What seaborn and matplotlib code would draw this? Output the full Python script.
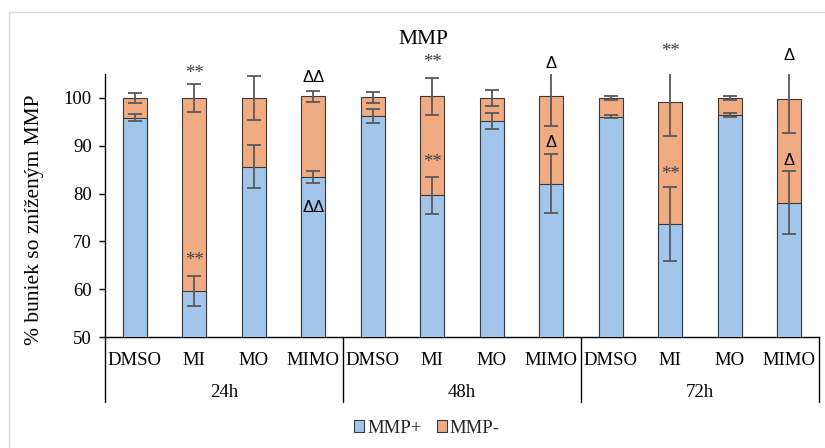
import matplotlib
matplotlib.use("Agg")
import matplotlib.pyplot as plt
import matplotlib.transforms as mtransforms
from matplotlib.patches import Patch, Rectangle
import numpy as np
import pandas as pd
import seaborn as sns

# ---- data -------------------------------------------------------------
groups = ["24h", "48h", "72h"]
treatments = ["DMSO", "MI", "MO", "MIMO"]

mmp_plus = [95.9, 59.6, 85.6, 83.5,
            96.2, 79.6, 95.2, 82.1,
            96.1, 73.6, 96.4, 78.1]
mmp_minus = [4.1, 40.4, 14.4, 16.8,
             3.9, 20.7, 4.8, 18.3,
             3.9, 25.6, 3.6, 21.6]
mmp_plus_err = [0.7, 3.1, 4.5, 1.2,
                1.4, 3.9, 1.6, 6.2,
                0.3, 7.7, 0.4, 6.6]
mmp_minus_err = [1.0, 3.0, 4.6, 1.2,
                 1.2, 3.9, 1.7, 6.3,
                 0.5, 7.1, 0.4, 7.1]

# significance marks: (bar index, y, text)
marks = [
    (1, 106.1, "**"), (1, 66.9, "**"),
    (3, 104.5, "ΔΔ"), (3, 77.3, "ΔΔ"),
    (5, 108.4, "**"), (5, 87.4, "**"),
    (7, 107.4, "Δ"), (7, 90.9, "Δ"),
    (9, 110.6, "**"), (9, 84.9, "**"),
    (11, 109.1, "Δ"), (11, 87.2, "Δ"),
]

yticks = [50, 60, 70, 80, 90, 100]

# ---- styling ------------------------------------------------------------
sns.set_theme(style="white")
plt.rcParams["font.family"] = ["Liberation Serif", "DejaVu Serif"]

BLUE = "#A2C6EB"
ORANGE = "#F1AB82"
EDGE = "#3A3A3A"
ERR = "#595959"

labels = [f"{g}|{t}" for g in groups for t in treatments]
df = pd.DataFrame({
    "pos": labels,
    "plus": mmp_plus,
    "minus": mmp_minus,
})
df["total"] = df["plus"] + df["minus"]

W, H = 825, 448
fig = plt.figure(figsize=(W / 100, H / 100), dpi=100)
ax = fig.add_axes([105 / W, 1 - 337 / H, 714 / W, 263 / H])

# stacked bars: full height in orange, MMP+ part over it in blue
sns.barplot(data=df, x="pos", y="total", order=labels, color=ORANGE,
            saturation=1, width=0.41, edgecolor=EDGE, linewidth=0.8,
            errorbar=None, ax=ax, zorder=2)
sns.barplot(data=df, x="pos", y="plus", order=labels, color=BLUE,
            saturation=1, width=0.41, edgecolor=EDGE, linewidth=0.8,
            errorbar=None, ax=ax, zorder=3)

xs = np.arange(len(labels))
ax.errorbar(xs, df["plus"], yerr=mmp_plus_err, fmt="none", ecolor=ERR,
            elinewidth=1.3, capsize=5, capthick=1.3, zorder=4)
ax.errorbar(xs, df["total"], yerr=mmp_minus_err, fmt="none", ecolor=ERR,
            elinewidth=1.3, capsize=5, capthick=1.3, zorder=4)

ax.set_xlim(-0.5, len(labels) - 0.5)
ax.set_ylim(50, 105)
ax.set_yticks(yticks)
ax.set_yticklabels([str(v) for v in yticks], fontsize=13.5)
ax.tick_params(axis="y", left=True, length=4.5, width=1, color="black",
               pad=5, labelcolor="black")
ax.set_xticks([])
ax.set_xlabel("")
ax.set_ylabel("")

for side in ["top", "right"]:
    ax.spines[side].set_visible(False)
for side in ["left", "bottom"]:
    ax.spines[side].set_color("black")
    ax.spines[side].set_linewidth(1)

# two-level category axis
bt = mtransforms.blended_transform_factory(ax.transData, ax.transAxes)
px = 1 / 263  # one pixel in axes-y units
for i, t in enumerate(treatments * len(groups)):
    ax.text(i, -(365 - 337) * px, t, transform=bt, ha="center",
            va="baseline", fontsize=13.5, color="black")
for g_i, g in enumerate(groups):
    ax.text(g_i * 4 + 1.5, -(397 - 337) * px, g, transform=bt,
            ha="center", va="baseline", fontsize=13.5, color="black")
for b in [-0.5, 3.5, 7.5, 11.5]:
    ax.plot([b, b], [0, -(402 - 337) * px], transform=bt, color="black",
            lw=1, clip_on=False)

# significance marks
for i, y, s in marks:
    if "*" in s:
        ax.annotate(s, xy=(i, y), xytext=(0, -6.4), textcoords="offset points",
                    ha="center", va="baseline", fontsize=13.5, color="#404040",
                    annotation_clip=False)
    else:
        ax.annotate(s, xy=(i, y), xytext=(0, -4.3), textcoords="offset points",
                    ha="center", va="baseline", fontsize=12, color="black",
                    family="Liberation Sans", annotation_clip=False)

fig.text(423 / W, 1 - 40 / H, "MMP", ha="center", va="center",
         fontsize=15.5, color="black")
fig.text(35 / W, 1 - 220 / H, "% buniek so zníženým MMP", rotation=90,
         ha="center", va="center", fontsize=15.5, color="black")

handles = [Patch(facecolor=BLUE, edgecolor=EDGE, linewidth=0.8, label="MMP+"),
           Patch(facecolor=ORANGE, edgecolor=EDGE, linewidth=0.8, label="MMP-")]
fig.legend(handles=handles, loc="center", bbox_to_anchor=(427 / W, 1 - 428 / H),
           ncol=2, frameon=False, fontsize=13.5, handlelength=0.55,
           handleheight=0.55, handletextpad=0.15, columnspacing=0.8)

# light outer frame
fig.patches.append(Rectangle((9 / W, -0.1), 1.0, 1 - 12 / H + 0.1,
                             transform=fig.transFigure, fill=False,
                             edgecolor="#D9D9D9", linewidth=1))

fig.savefig("out.png", dpi=100)
